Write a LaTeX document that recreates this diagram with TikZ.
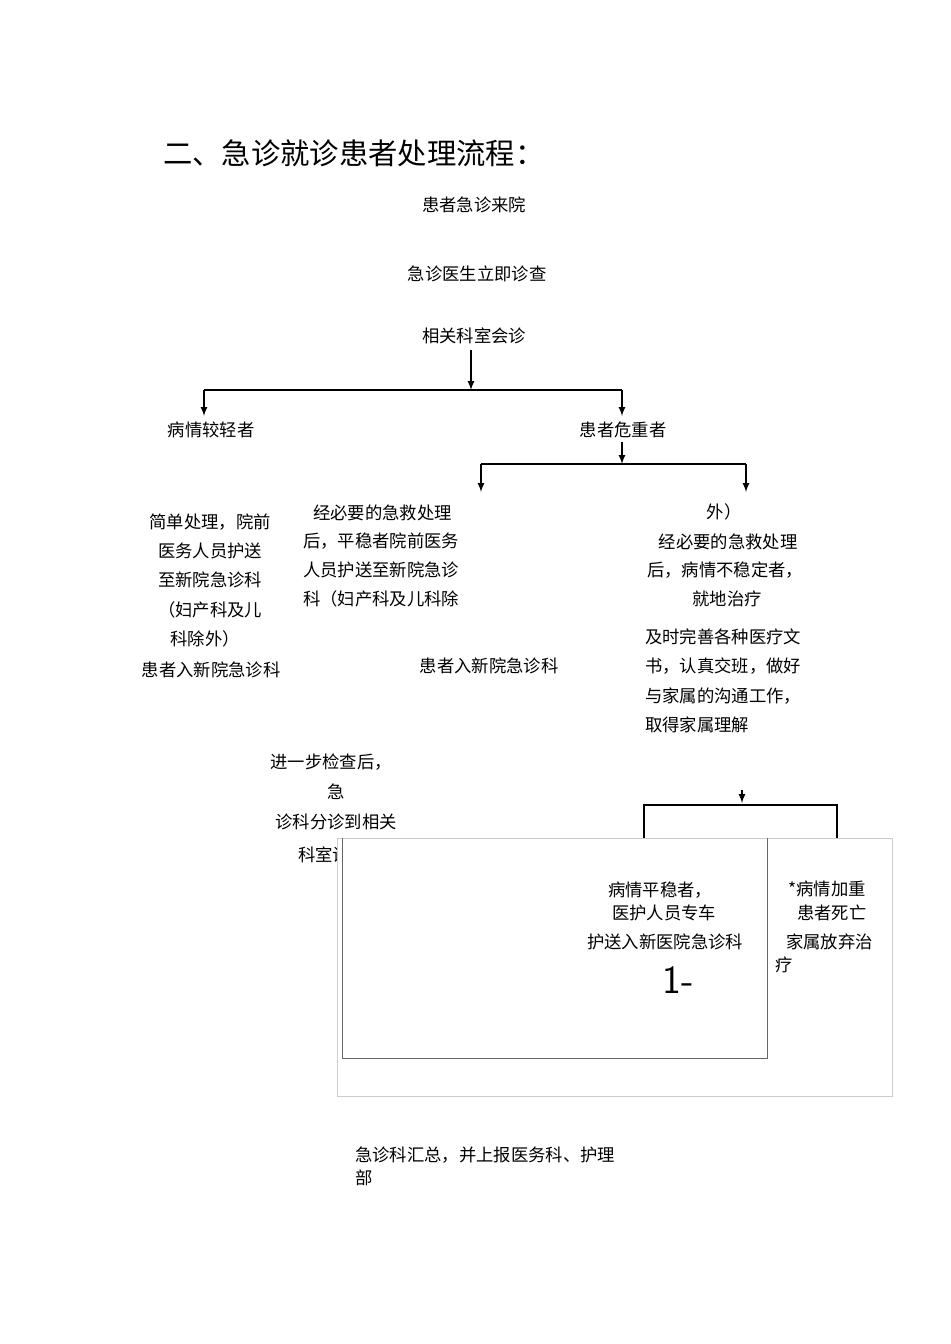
\documentclass[tikz,border=0pt]{standalone}
\usepackage{fontspec}
\newfontfamily\cjk{Noto Sans CJK SC}
\begin{document}
\begin{tikzpicture}[x=0.75pt,y=-0.75pt,
  t/.style={font=\cjk\fontsize{13}{15}\selectfont,inner sep=0pt},
  tl/.style={t,anchor=west},
  ar/.style={-latex,line width=1.3pt},
  ln/.style={line width=1.3pt}]
\useasboundingbox (0,0) rectangle (950,1344);
\node[anchor=west,font=\cjk\fontsize{22}{26}\selectfont,inner sep=0pt] (title) at (163,153) {二、急诊就诊患者处理流程：};
\node[t] (a) at (474,205) {患者急诊来院};
\node[t] (b) at (477,274) {急诊医生立即诊查};
\node[t] (c) at (474,336) {相关科室会诊};
\coordinate (j1) at (471,390);
\coordinate (l1) at (204,390);
\coordinate (r1) at (622,390);
\draw[ar] (471,350) -- (j1);
\draw[ln] (l1) -- (r1);
\node[t] (light) at (211,430) {病情较轻者};
\node[t] (sev) at (623,430) {患者危重者};
\draw[ar] (l1) -- (204,416);
\draw[ar] (r1) -- (622,416);
\coordinate (j2) at (622,464);
\draw[ar] (622,442) -- (j2);
\draw[ln] (481,464) -- (746,464);
\draw[ar] (481,464) -- (481,492);
\draw[ar] (746,464) -- (746,492);
% left
\node[t] (l1t) at (210,522) {简单处理，院前};
\node[t] (l2t) at (210,551) {医务人员护送};
\node[t] (l3t) at (210,580) {至新院急诊科};
\node[t] (l4t) at (210,610) {（妇产科及儿};
\node[t] (l5t) at (205,639) {科除外）};
\node[t] (l6t) at (211,670) {患者入新院急诊科};
% middle
\node[tl] (m1) at (313,513) {经必要的急救处理};
\node[tl] (m2) at (303,541) {后，平稳者院前医务};
\node[tl] (m3) at (303,570) {人员护送至新院急诊};
\node[tl] (m4) at (303,599) {科（妇产科及儿科除};
\node[t] (m5) at (489,666) {患者入新院急诊科};
% right
\node[t] (r0) at (724,512) {外）};
\node[t] (r1t) at (728,542) {经必要的急救处理};
\node[t] (r2t) at (725,570) {后，病情不稳定者，};
\node[t] (r3t) at (727,599) {就地治疗};
\node[tl] (r4) at (645,637) {及时完善各种医疗文};
\node[tl] (r5) at (645,666) {书，认真交班，做好};
\node[tl] (r6) at (645,696) {与家属的沟通工作，};
\node[tl] (r7) at (645,725) {取得家属理解};
% further
\node[t] (f1) at (331,762) {进一步检查后，};
\node[t] (f2) at (336,792) {急};
\node[t] (f3) at (336,822) {诊科分诊到相关};
\node[tl] (f4) at (298,855) {科室诊};
% split
\draw[ar] (742,790) -- (742,803);
\draw[ln] (644,840) -- (644,805) -- (837,805) -- (837,840);
% boxes
\fill[white] (337,838) rectangle (892,1096);
\draw[gray!40] (337,838) rectangle (892,1096);
\draw[gray!80!black] (342,838) -- (342,1058) -- (767,1058) -- (767,838);
\node[t] (s1) at (660,890) {病情平稳者，};
\node[t] (s2) at (664,913) {医护人员专车};
\node[t] (s3) at (665,942) {护送入新医院急诊科};
\node[font=\fontsize{30}{34}\selectfont\sffamily,inner sep=0pt] (one) at (678,980) {1-};
\node[tl] (d1) at (788,889) {*病情加重};
\node[tl] (d2) at (797,913) {患者死亡};
\node[tl] (d3) at (786,942) {家属放弃治};
\node[tl] (d4) at (775,965) {疗};
\node[tl] (e1) at (355,1155) {急诊科汇总，并上报医务科、护理};
\node[tl] (e2) at (355,1178) {部};
\end{tikzpicture}
\end{document}
